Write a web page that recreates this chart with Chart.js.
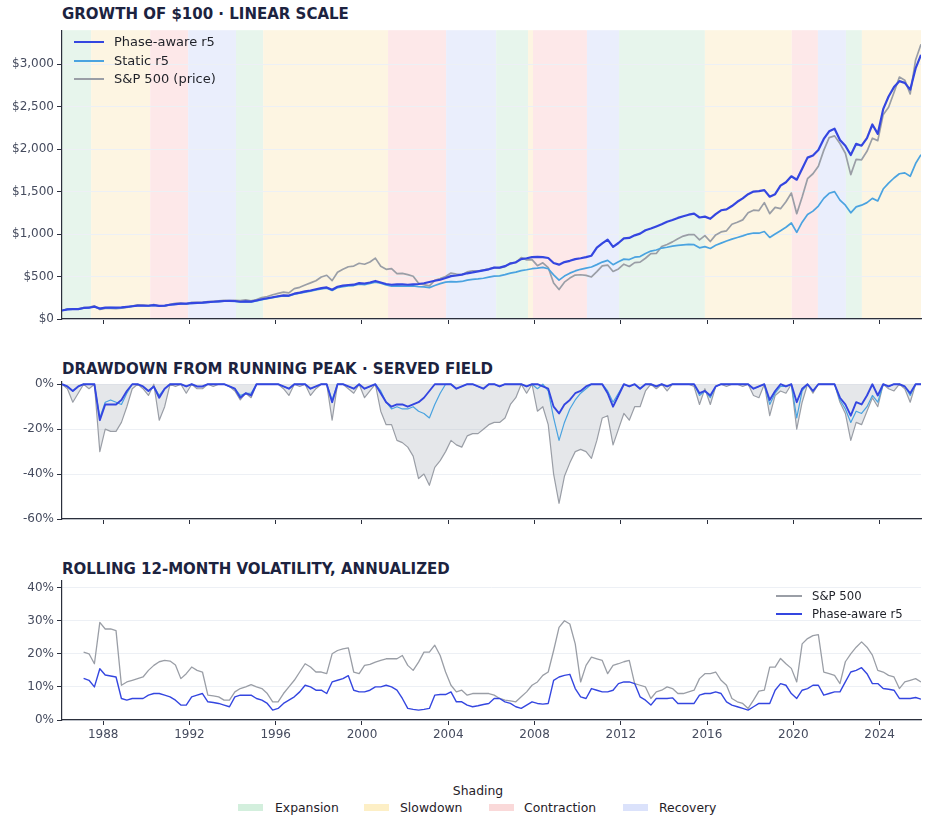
<!DOCTYPE html>
<html>
<head>
<meta charset="utf-8">
<script src="https://cdn.jsdelivr.net/npm/chart.js@4.4.1/dist/chart.umd.min.js"></script>
<style>
  body { margin: 0; background: #fff; font-family: "DejaVu Sans", sans-serif; }
  #wrap { position: relative; width: 930px; height: 828px; overflow: hidden; }
  .title { position: absolute; left: 62px; font-weight: bold; font-size: 15px; line-height: 15px; color: #1c2340; white-space: nowrap; }
  .box { position: absolute; left: 0; width: 930px; }
  .sw { position: absolute; }
  .lt { position: absolute; white-space: nowrap; color: #1f2128; }
</style>
</head>
<body>
<div id="wrap">
  <div class="title" style="top:7px">GROWTH OF $100 · LINEAR SCALE</div>
  <div class="box" style="top:20px;height:320px"><canvas id="growth" width="930" height="320"></canvas></div>

  <div class="title" style="top:362px">DRAWDOWN FROM RUNNING PEAK · SERVED FIELD</div>
  <div class="box" style="top:370px;height:160px"><canvas id="drawdown" width="930" height="160"></canvas></div>

  <div class="title" style="top:562px">ROLLING 12-MONTH VOLATILITY, ANNUALIZED</div>
  <div class="box" style="top:570px;height:200px"><canvas id="vol" width="930" height="200"></canvas></div>

  <!-- growth legend -->
  <div class="sw" style="left:74px;top:40.7px;width:30px;height:2.6px;background:#3446e0"></div>
  <div class="lt" style="left:114px;top:34px;font-size:13px;line-height:16px">Phase-aware r5</div>
  <div class="sw" style="left:74px;top:60px;width:30px;height:2px;background:#4aa3e0"></div>
  <div class="lt" style="left:114px;top:53px;font-size:13px;line-height:16px">Static r5</div>
  <div class="sw" style="left:74px;top:78px;width:30px;height:2px;background:#9a9ea6"></div>
  <div class="lt" style="left:114px;top:71px;font-size:13px;line-height:16px">S&amp;P 500 (price)</div>

  <!-- vol legend -->
  <div class="sw" style="left:776px;top:595.3px;width:26px;height:1.5px;background:#9a9ea6"></div>
  <div class="lt" style="left:812px;top:589px;font-size:11.7px;line-height:14px">S&amp;P 500</div>
  <div class="sw" style="left:776px;top:613.3px;width:26px;height:1.5px;background:#3446e0"></div>
  <div class="lt" style="left:812px;top:607px;font-size:11.7px;line-height:14px">Phase-aware r5</div>

  <!-- shading legend -->
  <div class="lt" style="left:378px;width:200px;text-align:center;top:783px;font-size:12.4px;line-height:16px">Shading</div>
  <div class="sw" style="left:238px;top:804px;width:25px;height:7px;background:#d3efdd"></div>
  <div class="lt" style="left:275px;top:800px;font-size:12.4px;line-height:16px">Expansion</div>
  <div class="sw" style="left:364px;top:804px;width:25px;height:7px;background:#fdefc6"></div>
  <div class="lt" style="left:400px;top:800px;font-size:12.4px;line-height:16px">Slowdown</div>
  <div class="sw" style="left:489px;top:804px;width:25px;height:7px;background:#fad9d9"></div>
  <div class="lt" style="left:524px;top:800px;font-size:12.4px;line-height:16px">Contraction</div>
  <div class="sw" style="left:623px;top:804px;width:25px;height:7px;background:#dbe2fb"></div>
  <div class="lt" style="left:659px;top:800px;font-size:12.4px;line-height:16px">Recovery</div>
</div>

<script>
// quarterly samples, Feb 1986 .. Dec 2025 (4 per year, one row per year)
const X_MIN = 1986.09, X_MAX = 2025.92;
const yearTicks = [1988, 1992, 1996, 2000, 2004, 2008, 2012, 2016, 2020, 2024];
const growthTicks = [0, 500, 1000, 1500, 2000, 2500, 3000];
const drawdownTicks = [-60, -40, -20, 0];
const volTicks = [0, 10, 20, 30, 40];

const phaseStarts = [1986.09, 1987.44, 1990.18, 1991.94, 1994.16, 1995.42, 2001.21, 2003.9, 2006.22,
  2007.7, 2007.93, 2010.43, 2011.92, 2015.9, 2019.93, 2021.14, 2022.44, 2023.18];
const phaseNames = ['Expansion', 'Slowdown', 'Contraction', 'Recovery', 'Expansion', 'Slowdown', 'Contraction', 'Recovery',
  'Expansion', 'Slowdown', 'Contraction', 'Recovery', 'Expansion', 'Slowdown', 'Contraction', 'Recovery', 'Expansion', 'Slowdown'];

const phaseAware = [
  100, 113, 116, 116,  130, 133, 146, 123,  133, 134, 134, 137,  143, 150, 158, 158,
  156, 163, 155, 158,  168, 175, 180, 180,  188, 191, 193, 198,  203, 207, 212, 213,
  212, 203, 208, 205,  218, 232, 244, 256,  268, 278, 276, 298,  310, 325, 336, 350,
  364, 372, 345, 380,  393, 400, 404, 422,  418, 430, 448, 430,  412, 403, 408, 408,
  403, 408, 412, 421,  436, 450, 462, 482,  505, 512, 522, 538,  548, 560, 572, 585,
  605, 605, 622, 652,  668, 705, 715, 728,  732, 728, 718, 660,  640, 670, 685, 705,
  715, 728, 745, 840,  890, 935, 850, 895,  950, 955, 985, 1005,  1045, 1065, 1090, 1115,
  1145, 1165, 1190, 1210,  1228, 1240, 1195, 1205,  1180, 1235, 1280, 1290,  1330, 1380, 1420, 1470,
  1500, 1505, 1517, 1440,  1470, 1570, 1610, 1680,  1640, 1770, 1900, 1925,  1990, 2120, 2210, 2240,
  2107, 2040, 1930, 2062,  2040, 2130, 2290, 2180,  2470, 2620, 2730, 2800,  2780, 2700, 2950, 3110
];
const staticR5 = [
  100, 113, 115, 115,  128, 132, 144, 123,  132, 133, 132, 135,  141, 148, 156, 156,
  154, 161, 153, 156,  166, 172, 177, 177,  185, 188, 190, 195,  200, 204, 209, 210,
  208, 200, 204, 202,  214, 228, 240, 252,  263, 272, 270, 292,  303, 317, 328, 341,
  355, 362, 337, 370,  382, 390, 394, 410,  405, 418, 434, 422,  400, 386, 390, 386,
  386, 390, 382, 378,  369, 395, 417, 434,  440, 438, 442, 458,  466, 472, 480, 492,
  505, 508, 522, 540,  552, 570, 580, 592,  598, 608, 592, 520,  458, 505, 540, 566,
  585, 598, 612, 640,  670, 690, 640, 675,  705, 700, 728, 735,  770, 800, 812, 835,
  845, 857, 866, 872,  878, 875, 838, 852,  830, 868, 893, 918,  940, 960, 978, 1000,
  1012, 1010, 1030, 960,  1000, 1040, 1080, 1130,  1020, 1140, 1230, 1270,  1330, 1420, 1480, 1500,
  1400, 1340, 1250, 1320,  1340, 1370, 1420, 1390,  1530, 1600, 1660, 1710,  1720, 1680, 1830, 1935
];
const sp500 = [
  100, 117, 119, 118,  134, 137, 155, 112,  126, 124, 123, 129,  136, 151, 166, 163,
  157, 171, 152, 152,  173, 184, 187, 177,  195, 196, 195, 204,  209, 213, 219, 218,
  221, 216, 225, 214,  230, 252, 265, 286,  302, 316, 308, 357,  373, 401, 425, 451,
  495, 515, 452, 550,  585, 615, 623, 656,  645, 671, 717, 621,  585, 593, 535, 538,
  523, 504, 420, 405,  390, 455, 476, 500,  541, 529, 521, 554,  568, 563, 576, 590,
  605, 600, 616, 661,  664, 723, 696, 699,  628, 661, 606, 423,  347, 434, 482, 517,
  521, 514, 495, 557,  626, 635, 560, 589,  645, 618, 664, 669,  715, 770, 771, 853,
  878, 908, 946, 976,  994, 995, 931, 982,  912, 990, 1025, 1038,  1116, 1139, 1167, 1250,
  1281, 1277, 1370, 1240,  1314, 1299, 1381, 1483,  1240, 1437, 1652, 1710,  1799, 1985, 2135, 2156,
  2065, 1951, 1700, 1880,  1874, 1974, 2128, 2100,  2406, 2492, 2667, 2848,  2812, 2650, 3050, 3235
];

// drawdown from running peak, %
const ddPhaseAware = [
  0, -1, -3, -1,  0, 0, 0, -16,  -9, -9, -9, -7,  -3, 0, 0, -1,
  -3, -1, -6, -2,  0, 0, 0, -1,  0, -1, -1, 0,  0, 0, 0, -1,
  -2, -6, -4, -5,  0, 0, 0, 0,  0, -1, -2, 0,  0, 0, -2, -1,
  0, 0, -8, 0,  0, -1, -2, 0,  -2, -1, 0, -4,  -8, -10, -9, -9,
  -10, -9, -8, -6,  -3, 0, 0, 0,  0, -2, -1, 0,  0, -1, -2, 0,
  0, -1, 0, 0,  0, 0, -1, 0,  0, -1, -2, -10,  -13, -9, -7, -4,
  -3, -1, 0, 0,  0, -4, -10, -5,  0, -1, 0, -2,  0, 0, -1, 0,
  -1, 0, 0, 0,  0, 0, -4, -3,  -5, -1, 0, 0,  0, 0, 0, 0,
  -2, -1, 0, -7,  -3, 0, -1, 0,  -8, -2, 0, -3,  0, 0, 0, 0,
  -6, -9, -14, -8,  -9, -5, 0, -5,  0, -1, 0, 0,  -1, -4, 0, 0
];
const ddStatic = [
  0, -1, -3, -1,  0, 0, 0, -15,  -8, -7, -8, -9,  -4, 0, 0, -1,
  -3, -1, -5, -2,  0, 0, 0, -1,  0, -1, -1, 0,  0, 0, 0, -1,
  -2, -5, -4, -4,  0, 0, 0, 0,  0, -1, -2, 0,  0, 0, -2, -1,
  0, 0, -7, 0,  0, -1, -2, 0,  -2, -1, 0, -3,  -8, -11, -10, -11,
  -11, -10, -12, -13,  -15, -9, -4, 0,  0, -2, -1, 0,  0, -1, -2, 0,
  0, -1, 0, 0,  0, 0, -1, 0,  -2, 0, -3, -15,  -25, -17, -11, -7,
  -4, -2, 0, 0,  0, -3, -8, -4,  0, -1, 0, -2,  0, 0, -1, 0,
  -1, 0, 0, 0,  0, 0, -5, -3,  -6, -1, 0, 0,  0, 0, 0, 0,
  -2, -1, 0, -9,  -4, -1, -1, 0,  -15, -3, 0, -3,  0, 0, 0, 0,
  -7, -11, -17, -12,  -13, -10, -5, -8,  0, -1, 0, 0,  -1, -5, 0, 0
];
const ddSP500 = [
  0, -2, -8, -4,  0, -2, 0, -30,  -20, -21, -21, -17,  -10, -2, 0, -2,
  -5, 0, -16, -10,  0, -1, 0, -4,  0, -2, -2, 0,  -1, 0, 0, -1,
  -3, -7, -4, -6,  0, 0, 0, 0,  0, -2, -5, 0,  -1, 0, -5, -2,
  0, 0, -16, 0,  0, -2, -4, 0,  -6, -3, 0, -12,  -18, -18, -25, -26,
  -28, -32, -42, -40,  -45, -37, -34, -30,  -25, -27, -28, -23,  -22, -22, -20, -18,
  -17, -17, -15, -9,  -6, 0, -4, 0,  -12, -10, -18, -40,  -53, -41, -35, -30,
  -29, -30, -33, -25,  -15, -14, -27, -20,  -13, -16, -10, -10,  -3, 0, -2, 0,
  -3, 0, 0, 0,  0, -1, -9, -2,  -9, -1, 0, -1,  0, 0, -1, 0,
  -5, -6, 0, -14,  -5, -3, -4, 0,  -20, -8, 0, -4,  0, 0, 0, 0,
  -8, -13, -25, -17,  -18, -12, -6, -10,  0, -2, -3, 0,  -2, -8, 0, 0
];

// rolling 12-month volatility, annualized %
const volSP500 = [
  null, null, null, null,  20.5, 20, 17, 29.5,  27.5, 27.5, 27, 10.5,  11.5, 12, 12.5, 13,
  15, 16.5, 17.6, 18,  17.8, 16.6, 12.5, 14,  16, 15, 14.5, 7.5,  7.3, 7, 6, 6,
  8.5, 9.5, 10, 10.7,  10, 9.5, 8, 5.5,  5.5, 8, 10, 12,  14.5, 17, 16, 14.5,
  14.5, 14, 20, 21,  21.5, 21.8, 14.5, 14,  16.5, 16.8, 17.5, 18,  18.5, 18.5, 18.5, 19.5,
  16.5, 15, 17.5, 20.5,  20.5, 22.6, 19.5, 14.5,  10.5, 8.5, 9, 7.5,  8, 8, 8, 8,
  7.5, 6.5, 6, 5.8,  5.5, 7, 8.5, 10.5,  11.5, 13.5, 14.5, 21,  28, 30, 29, 23,
  11.5, 16.5, 19, 18.5,  18, 14, 16.5, 17,  17.6, 18, 11, 10.5,  10, 6.5, 8.5, 9,
  10, 9.5, 8, 8,  8.5, 9, 12.5, 14,  14, 14.5, 12, 10.5,  6.5, 5.5, 5, 3.5,
  6, 8.7, 9, 16,  16, 18.6, 17, 15.6,  11.5, 23, 24.6, 25.5,  25.8, 14.5, 14, 13.5,
  11, 17.6, 20, 22,  23.6, 22, 19.6, 15,  14.5, 13.5, 13, 9.5,  11.5, 12, 12.5, 11.5
];
const volPhaseAware = [
  null, null, null, null,  12.6, 12, 10, 15.5,  13.6, 13.3, 13, 6.5,  6, 6.5, 6.5, 6.5,
  7.5, 8, 8, 7.5,  7, 6, 4.5, 4.5,  7, 7.5, 8, 5.5,  5.3, 5, 4.5, 4,
  7, 7.5, 7.5, 7.5,  6.5, 6, 5, 3,  3.5, 5, 6, 7,  8.5, 10.5, 10, 9,
  9, 8, 11.5, 12,  12.5, 13.4, 9, 8.5,  8.5, 9, 10, 10,  10.5, 10, 9, 6.5,
  3.5, 3.2, 3, 3.2,  3.5, 7.5, 7.7, 7.7,  8.5, 5.5, 5.5, 4.5,  4, 4.3, 4.7, 5,
  6.5, 6.5, 5.5, 5,  4, 3.5, 4.5, 5.5,  5, 4.8, 5, 12,  13, 13.5, 13.8, 9.5,
  7, 6.5, 9.5, 9,  8.5, 8.5, 9, 11,  11.5, 11.5, 11, 7,  6, 4.5, 6.5, 6.5,
  6.5, 6.7, 5, 5,  5, 5, 7.5, 8,  8, 8.5, 8, 5.5,  4.5, 4, 3.5, 3,
  4, 5, 5, 5,  9, 11, 10.5, 8,  6.5, 9, 9.5, 10.5,  10.5, 7.5, 8, 8.5,
  8.5, 11.5, 14.5, 15,  15.8, 14, 11, 11,  9.5, 9.3, 9, 6.5,  6.5, 6.5, 6.8, 6.3
];

const N = sp500.length;
const dates = sp500.map((_, i) => X_MIN + i * (X_MAX - X_MIN) / (N - 1));
const pts = arr => arr.map((v, i) => ({ x: dates[i], y: v }));

const C_PA = '#3446e0', C_ST = '#4aa3e0', C_SP = '#9a9ea6';
const INK = '#2b2f3c', TICK = '#454b5e', GRID = '#edf0f5';
const shadeFill = { Expansion: '#e7f5ec', Slowdown: '#fdf5e2', Contraction: '#fde8e9', Recovery: '#eaeefc' };

Chart.defaults.font.family = '"DejaVu Sans", sans-serif';
Chart.defaults.font.size = 12;
Chart.defaults.color = TICK;

const phaseShading = {
  id: 'phaseShading',
  beforeDraw(chart) {
    const { ctx, chartArea, scales: { x } } = chart;
    ctx.save();
    for (let i = 0; i < phaseStarts.length; i++) {
      const end = i + 1 < phaseStarts.length ? phaseStarts[i + 1] : X_MAX;
      const x0 = x.getPixelForValue(phaseStarts[i]);
      const x1 = x.getPixelForValue(end);
      ctx.fillStyle = shadeFill[phaseNames[i]];
      ctx.fillRect(x0, chartArea.top, x1 - x0, chartArea.bottom - chartArea.top);
    }
    ctx.restore();
  }
};

function xAxis(height, labels) {
  return {
    type: 'linear', min: X_MIN, max: X_MAX,
    afterBuildTicks: ax => { ax.ticks = yearTicks.map(v => ({ value: v })); },
    afterFit: ax => { ax.height = height; },
    grid: { drawOnChartArea: false, drawTicks: true, tickLength: 5, tickColor: INK },
    border: { display: true, color: INK, width: 1.2 },
    ticks: { display: labels, padding: 3, maxRotation: 0, autoSkip: false, callback: v => String(v) }
  };
}

function yAxis(min, max, tickValues, fmt) {
  return {
    min: min, max: max,
    afterBuildTicks: ax => { ax.ticks = tickValues.map(v => ({ value: v })); },
    afterFit: ax => { ax.width = 62; },
    grid: { color: GRID, tickColor: INK, tickLength: 5 },
    border: { display: true, color: INK, width: 1.2 },
    ticks: { padding: 3, autoSkip: false, callback: fmt }
  };
}

function line(label, data, color, width, extra) {
  return Object.assign({
    label: label, data: pts(data), borderColor: color, borderWidth: width,
    pointRadius: 0, tension: 0, fill: false, borderJoinStyle: 'round'
  }, extra || {});
}

const base = {
  responsive: false, animation: false,
  plugins: { legend: { display: false }, tooltip: { enabled: false } },
  events: []
};

new Chart(document.getElementById('growth'), {
  type: 'line',
  data: {
    datasets: [
      line('Phase-aware r5', phaseAware, C_PA, 2.2),
      line('Static r5', staticR5, C_ST, 1.7),
      line('S&P 500 (price)', sp500, C_SP, 1.7)
    ]
  },
  options: Object.assign({}, base, {
    layout: { padding: { top: 6, right: 9, left: 0, bottom: 0 } },
    scales: {
      x: xAxis(21, false),
      y: yAxis(0, 3400, growthTicks, v => '$' + v.toLocaleString('en-US'))
    }
  }),
  plugins: [phaseShading]
});

new Chart(document.getElementById('drawdown'), {
  type: 'line',
  data: {
    datasets: [
      line('Phase-aware r5', ddPhaseAware, C_PA, 1.9),
      line('Static r5', ddStatic, C_ST, 1.2),
      line('S&P 500', ddSP500, C_SP, 1.2, { fill: 'origin', backgroundColor: 'rgba(175,180,190,0.32)' })
    ]
  },
  options: Object.assign({}, base, {
    layout: { padding: { top: 12, right: 9, left: 0, bottom: 0 } },
    scales: {
      x: xAxis(11, false),
      y: yAxis(-60, 1, drawdownTicks, v => v + '%')
    }
  })
});

new Chart(document.getElementById('vol'), {
  type: 'line',
  data: {
    datasets: [
      line('Phase-aware r5', volPhaseAware, C_PA, 1.4),
      line('S&P 500', volSP500, C_SP, 1.3)
    ]
  },
  options: Object.assign({}, base, {
    spanGaps: false,
    layout: { padding: { top: 11, right: 9, left: 0, bottom: 0 } },
    scales: {
      x: xAxis(50, true),
      y: yAxis(0, 42, volTicks, v => v + '%')
    }
  })
});
</script>
</body>
</html>
